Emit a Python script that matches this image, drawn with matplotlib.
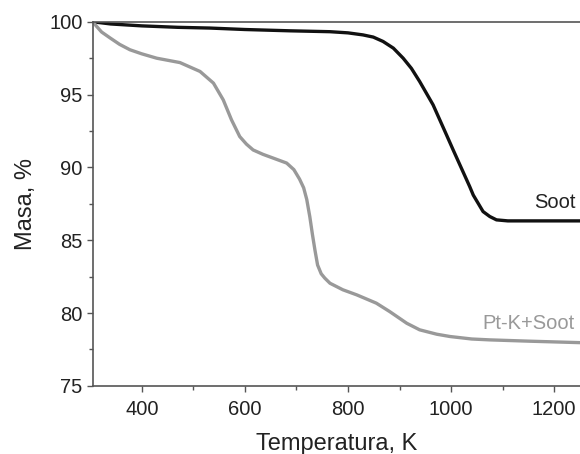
import matplotlib
matplotlib.use("Agg")
import matplotlib.pyplot as plt
from matplotlib.ticker import MultipleLocator

plt.rcParams['font.family'] = ['Liberation Sans', 'DejaVu Sans']

soot_T = [305, 340, 400, 470, 532, 600, 688, 765, 800, 829, 849, 868, 888, 907, 923, 939, 965, 991, 1004, 1017, 1036, 1043, 1062, 1075, 1088, 1110, 1152, 1200, 1250]
soot_m = [100.0, 99.85, 99.72, 99.62, 99.57, 99.47, 99.38, 99.32, 99.24, 99.1, 98.95, 98.65, 98.19, 97.5, 96.8, 95.9, 94.3, 92.24, 91.2, 90.18, 88.69, 88.1, 86.97, 86.63, 86.4, 86.33, 86.33, 86.33, 86.33]

ptk_T = [305, 312, 322, 339, 357, 377, 400, 429, 474, 513, 539, 558, 574, 590, 603, 616, 635, 655, 681, 695, 706, 714, 720, 726, 731, 736, 741, 748, 755, 765, 790, 817, 855, 881, 914, 939, 972, 998, 1040, 1075, 1152, 1250]
ptk_m = [100.0, 99.7, 99.3, 98.88, 98.45, 98.08, 97.8, 97.5, 97.2, 96.59, 95.79, 94.64, 93.27, 92.12, 91.6, 91.2, 90.9, 90.64, 90.3, 89.85, 89.2, 88.6, 87.8, 86.6, 85.4, 84.3, 83.3, 82.7, 82.4, 82.05, 81.6, 81.25, 80.68, 80.1, 79.3, 78.85, 78.55, 78.39, 78.22, 78.16, 78.07, 77.97]

fig = plt.figure(figsize=(5.8, 4.54), dpi=100)
ax = fig.add_axes([0.16, 0.15, 0.84, 0.802])

ax.plot(soot_T, soot_m, color='#111111', lw=2.4, solid_capstyle='round', solid_joinstyle='round')
ax.plot(ptk_T, ptk_m, color='#999999', lw=2.4, solid_capstyle='round', solid_joinstyle='round')

ax.set_xlim(305, 1250)
ax.set_ylim(75, 100)
ax.xaxis.set_major_locator(MultipleLocator(200))
ax.xaxis.set_minor_locator(MultipleLocator(100))
ax.yaxis.set_major_locator(MultipleLocator(5))
ax.yaxis.set_minor_locator(MultipleLocator(2.5))

spc = '#555555'
for s in ['left', 'bottom', 'top']:
    ax.spines[s].set_color(spc)
    ax.spines[s].set_linewidth(1.2)
ax.spines['right'].set_visible(False)

ax.tick_params(axis='both', which='major', direction='out', length=4, width=1, colors=spc, labelcolor='#222222', labelsize=14.5)
ax.tick_params(axis='both', which='minor', direction='out', length=3, width=1, colors=spc)
ax.tick_params(axis='x', which='major', pad=6)

ax.set_xlabel('Temperatura, K', fontsize=17, color='#222222', labelpad=10)
ax.set_ylabel('Masa, %', fontsize=17, color='#222222', labelpad=9)

ax.text(1242, 87.6, 'Soot', fontsize=14.5, color='#222222', ha='right', va='center')
ax.text(1240, 79.3, 'Pt-K+Soot', fontsize=14.5, color='#999999', ha='right', va='center')

fig.savefig('out.png', dpi=100)
